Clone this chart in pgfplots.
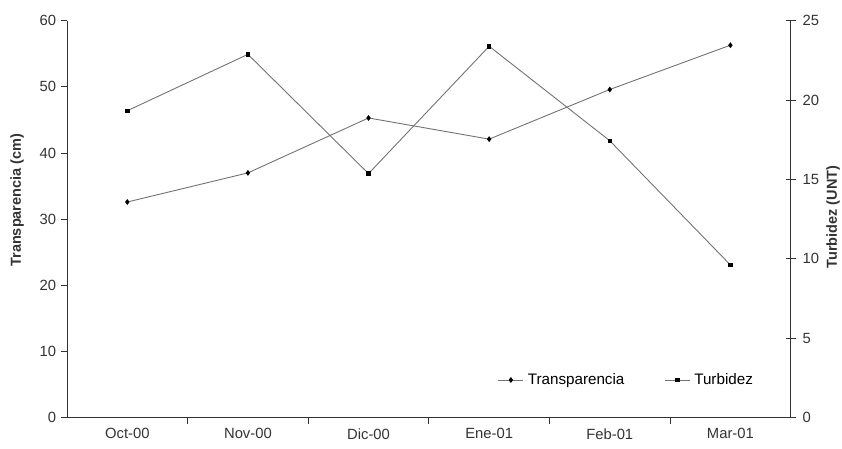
\documentclass[border=0pt]{standalone}
\usepackage{fontspec}
\setmainfont{Liberation Sans}
\usepackage{pgfplots}
\pgfplotsset{compat=1.18}
\definecolor{linegray}{gray}{0.45}
\definecolor{axgray}{gray}{0.2}
\begin{document}
\fontsize{14}{16}\selectfont
\begin{tikzpicture}
\path[use as bounding box] (0,0) rectangle (842pt,449pt);
\pgfplotsset{
  common/.style={
    at={(67pt,31.3pt)}, anchor=south west,
    scale only axis, width=723.7pt, height=397pt,
    xmin=-0.5, xmax=5.5,
    /pgf/number format/assume math mode=true,
    axis line style={axgray, line width=0.8pt, -},
    tick style={axgray, line width=0.8pt},
    ticklabel style={font=\fontsize{14.8}{16}\selectfont, text=axgray},
    label style={font=\fontsize{14.5}{16}\selectfont\bfseries, text=axgray},
  },
  transp/.style={linegray, line width=0.9pt, mark=diamond*, mark size=2.2pt, mark options={black, fill=black, solid}},
  turb/.style={linegray, line width=0.9pt, mark=square*, mark size=1.7pt, mark options={black, fill=black, solid}},
}
\begin{axis}[common,
  ymin=0, ymax=60,
  axis y line*=left, axis x line*=bottom,
  xtick={0.5,1.5,2.5,3.5,4.5}, xticklabels={},
  extra x ticks={0,1,2,3,4,5},
  extra x tick labels={Oct-00,Nov-00,Dic-00,Ene-01,Feb-01,Mar-01},
  extra x tick style={major tick length=0pt, xticklabel style={yshift=-6pt}},
  ytick={0,10,20,30,40,50,60},
  tick align=outside, major tick length=6pt,
  ylabel={Transparencia (cm)},
  ylabel style={at={(axis description cs:-0.069,0.548)}, anchor=center},
]
\addplot[transp] coordinates {(0,32.6) (1,37.0) (2,45.3) (3,42.1) (4,49.6) (5,56.3)};
\end{axis}
\begin{axis}[common,
  ymin=0, ymax=25,
  axis y line*=right, axis x line=none,
  ytick={0,5,10,15,20,25},
  tick align=center, major tick length=10pt,
  yticklabel style={xshift=2pt},
  ylabel={Turbidez (UNT)},
  ylabel style={at={(axis description cs:1.0585,0.505)}, anchor=center},
  legend style={draw=none, fill=none, legend columns=2,
    at={(0.591,0.095)}, anchor=west,
    font=\fontsize{15.2}{16}\selectfont,
    nodes={inner xsep=4pt},
    /tikz/every even column/.append style={column sep=36pt}},
  legend cell align=left,
  legend image code/.code={\draw[mark repeat=2,mark phase=2,#1] plot coordinates {(0pt,0pt) (12.5pt,0pt) (25pt,0pt)};},
]
\addlegendimage{transp}
\addlegendentry{Transparencia}
\addplot[turb] coordinates {(0,19.33) (1,22.88) (2,15.37) (3,23.39) (4,17.44) (5,9.62)};
\addlegendentry{Turbidez}
\end{axis}
\end{tikzpicture}
\end{document}
